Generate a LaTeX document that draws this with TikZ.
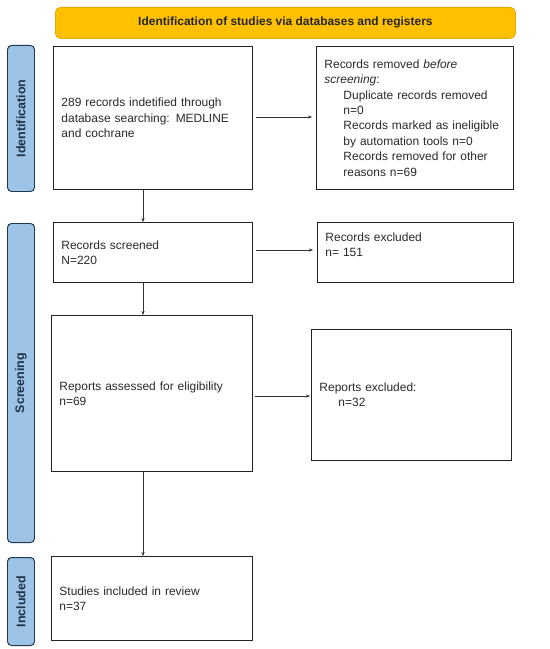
\documentclass[tikz,border=0pt]{standalone}
\usepackage{fontspec}
\setmainfont{Liberation Sans}
\usetikzlibrary{arrows.meta}
\definecolor{hdrfill}{HTML}{FFC000}
\definecolor{hdrline}{HTML}{E3AA00}
\definecolor{barfill}{HTML}{9DC3E6}
\definecolor{barline}{HTML}{22384F}
\definecolor{txt}{HTML}{2A2A2A}
\definecolor{boxline}{HTML}{222222}
\tikzset{
  hdr/.style={draw=hdrline, fill=hdrfill, line width=0.8pt, rounded corners=5pt,
    font=\bfseries\fontsize{12}{14}\selectfont, text=black!85, inner sep=0pt},
  sidebar/.style={draw=barline, fill=barfill, line width=1pt, rounded corners=4pt, inner sep=0pt},
  sidetxt/.style={rotate=90, font=\bfseries\fontsize{12.5}{14}\selectfont, text=barline!90!black},
  flowbox/.style={draw=boxline, line width=1pt, fill=white, align=left, anchor=north west,
    font=\fontsize{12}{15.5}\selectfont, text=txt, inner xsep=8pt, inner ysep=0pt},
  conn/.style={draw=black!80, line width=0.6pt, -{Stealth[length=4pt,width=3.2pt]}}
}
\begin{document}
\begin{tikzpicture}[x=1bp,y=-1bp]
\useasboundingbox (0,0) rectangle (550,649);
% header
\node[hdr, minimum width=460bp, minimum height=31bp, anchor=north west] (hdr) at (55,7)
  {Identification of studies via databases and registers};
% side bars
\node[sidebar, minimum width=27bp, minimum height=146bp, anchor=north west] (bar1) at (7,45) {};
\node[sidetxt] at (bar1.center) {Identification};
\node[sidebar, minimum width=27bp, minimum height=319bp, anchor=north west] (bar2) at (7,223) {};
\node[sidetxt] at (bar2.center) {Screening};
\node[sidebar, minimum width=27bp, minimum height=88bp, anchor=north west] (bar3) at (7,557) {};
\node[sidetxt] at (bar3.center) {Included};
% boxes
\node[flowbox, text width=183bp, minimum height=143bp] (b1) at (53,46)
  {289 records indetified through\\database searching: MEDLINE\\and cochrane};
\node[flowbox, text width=181bp, minimum height=143bp] (r1) at (316,46)
  {Records removed \textit{before}\\\textit{screening}:\\
   \hspace*{19bp}Duplicate records removed\\\hspace*{19bp}n=0\\
   \hspace*{19bp}Records marked as ineligible\\\hspace*{19bp}by automation tools n=0\\
   \hspace*{19bp}Records removed for other\\\hspace*{19bp}reasons n=69};
\node[flowbox, text width=183bp, minimum height=60bp] (b2) at (53,222)
  {Records screened\\N=220};
\node[flowbox, text width=180bp, minimum height=60bp] (r2) at (317,222)
  {Records excluded\\n= 151\\\mbox{}};
\node[flowbox, text width=185bp, minimum height=156bp] (b3) at (51,315)
  {Reports assessed for eligibility\\n=69};
\node[flowbox, text width=184bp, minimum height=131bp] (r3) at (311,329)
  {Reports excluded:\\\hspace*{19bp}n=32};
\node[flowbox, text width=185bp, minimum height=84bp] (b4) at (51,556)
  {Studies included in review\\n=37};
% connectors
\coordinate (y1) at (0,117);
\coordinate (y2) at (0,250);
\coordinate (y3) at (0,396);
\coordinate (xv) at (143,0);
\draw[conn] ([xshift=3bp]b1.east |- y1) -- ([xshift=-4bp]r1.west |- y1);
\draw[conn] ([xshift=3bp]b2.east |- y2) -- ([xshift=-4bp]r2.west |- y2);
\draw[conn] ([xshift=2bp]b3.east |- y3) -- ([xshift=-1bp]r3.west |- y3);
\draw[conn] (b1.south -| xv) -- (b2.north -| xv);
\draw[conn] (b2.south -| xv) -- (b3.north -| xv);
\draw[conn] (b3.south -| xv) -- (b4.north -| xv);
\end{tikzpicture}
\end{document}
